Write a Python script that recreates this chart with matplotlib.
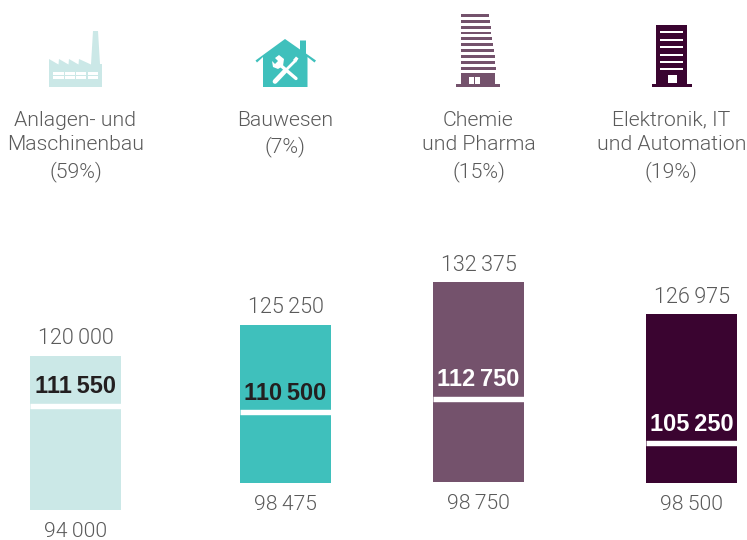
import matplotlib
matplotlib.use("Agg")
import matplotlib.pyplot as plt
from matplotlib.patches import Polygon, Rectangle
from matplotlib.lines import Line2D

categories = ["Anlagen- und\nMaschinenbau\n(59%)", "Bauwesen\n(7%)", "Chemie\nund Pharma\n(15%)", "Elektronik, IT\nund Automation\n(19%)"]
low_labels = ["94\u2009000", "98\u2009475", "98\u2009750", "98\u2009500"]
mid_labels = ["111\u2009550", "110\u2009500", "112\u2009750", "105\u2009250"]
high_labels = ["120\u2009000", "125\u2009250", "132\u2009375", "126\u2009975"]
low_values = [94000, 98475, 98750, 98500]
mid_values = [111550, 110500, 112750, 105250]
high_values = [120000, 125250, 132375, 126975]
colors = ["#cbe8e7", "#3fc0bc", "#74526c", "#3a0430"]
mid_text_colors = ["#231f20", "#231f20", "#ffffff", "#ffffff"]

W, H = 747, 540
CENTERS = [75.5, 285.5, 478.5, 691.5]
TEXT_CENTERS = [75.5, 285.5, 478.5, 671.5]
BAR_W = 91
PX_PER_UNIT = 0.00593
Y_BOTTOM = 94000 - 30 / PX_PER_UNIT
Y_TOP = 94000 + 510 / PX_PER_UNIT
GREY = "#5a5a5a"
LIGHT = dict(family="Roboto", weight=300)

fig = plt.figure(figsize=(W / 100, H / 100), dpi=100, facecolor="white")
ax = fig.add_axes([0, 0, 1, 1])
ax.set_xlim(0, W)
ax.set_ylim(Y_BOTTOM, Y_TOP)
ax.axis("off")

px = fig.add_axes([0, 0, 1, 1], facecolor="none")
px.set_xlim(0, W)
px.set_ylim(H, 0)
px.axis("off")

ax.bar(CENTERS, [h - l for h, l in zip(high_values, low_values)], bottom=low_values, width=BAR_W, color=colors, linewidth=0)
for c, m in zip(CENTERS, mid_values):
    ax.plot([c - BAR_W / 2, c + BAR_W / 2], [m, m], color="white", lw=3.9, solid_capstyle="butt")

for i, c in enumerate(CENTERS):
    ytop = (Y_TOP - high_values[i]) * PX_PER_UNIT
    ybot = (Y_TOP - low_values[i]) * PX_PER_UNIT
    ymid = (Y_TOP - mid_values[i]) * PX_PER_UNIT
    px.text(c, ytop - 17, high_labels[i], ha="center", va="center", fontsize=15.5, color=GREY, **LIGHT)
    px.text(c, ybot + 21.5, low_labels[i], ha="center", va="center", fontsize=15.2, color=GREY, **LIGHT)
    px.text(c, ymid - 19, mid_labels[i], ha="center", va="center", fontsize=17, color=mid_text_colors[i], family="Liberation Sans", weight="bold")
    px.text(TEXT_CENTERS[i], 110.5, categories[i], ha="center", va="top", fontsize=15.3, color=GREY, linespacing=1.39, **LIGHT)

# factory icon
fc = colors[0]
px.add_patch(Polygon([(49, 87), (49, 59), (58.5, 64.5), (59, 59), (68.5, 64.5), (69, 59), (78.5, 64.5), (79, 59), (91, 64.5), (93, 31), (98, 31), (100, 64), (102, 64), (102, 87)], closed=True, fc=fc, lw=0))
for y in (71.7, 76):
    for x0, x1 in ((53.3, 63.7), (65, 74.7), (76, 86.3), (87.7, 97.7)):
        px.add_patch(Rectangle((x0, y), x1 - x0, 3.3, fc="white", lw=0))

# house icon
fc = colors[1]
px.add_patch(Polygon([(263, 87), (263, 57), (257, 62.5), (255.5, 60.5), (285, 39), (300, 49.5), (300, 40.5), (306, 40.5), (306, 53.5), (316, 60.5), (314.5, 62.5), (307.5, 57), (307.5, 87)], closed=True, fc=fc, lw=0))
px.add_line(Line2D([279, 296], [64, 78.5], color="white", lw=2.4, solid_capstyle="round"))
px.add_patch(Polygon([(272, 61), (275, 64), (278, 61), (275, 58), (279, 55), (284, 59), (283, 66), (278, 69), (273, 67)], closed=True, fc="white", lw=0))
px.add_line(Line2D([275, 285], [81.5, 71], color="white", lw=3.4, solid_capstyle="round"))
px.add_line(Line2D([285, 295], [71, 61], color="white", lw=2, solid_capstyle="butt"))
px.add_patch(Polygon([(293, 60), (296, 56.5), (298.5, 58.5), (296, 62.5)], closed=True, fc="white", lw=0))

# tower icon
fc = colors[2]
for k in range(10):
    y = 14 + k * 5.87
    px.add_patch(Rectangle((461, y), 28 + k * 0.8, 2.8, fc=fc, lw=0))
px.add_patch(Polygon([(461, 73), (495, 73), (495, 84), (500, 84), (500, 87), (456, 87), (456, 84), (461, 84)], closed=True, fc=fc, lw=0))
px.add_patch(Rectangle((468.5, 77), 5, 6.5, fc="white", lw=0))
px.add_patch(Rectangle((474.5, 77), 5, 6.5, fc="white", lw=0))

# office icon
fc = colors[3]
px.add_patch(Polygon([(656, 25), (687, 25), (687, 84), (691.7, 84), (691.7, 87), (652, 87), (652, 84), (656, 84)], closed=True, fc=fc, lw=0))
for k in range(6):
    px.add_patch(Rectangle((660, 31.3 + k * 7.4), 23, 2, fc="white", lw=0))
px.add_patch(Rectangle((668, 75), 8.5, 8, fc="white", lw=0))

fig.savefig("out.png", dpi=100)
